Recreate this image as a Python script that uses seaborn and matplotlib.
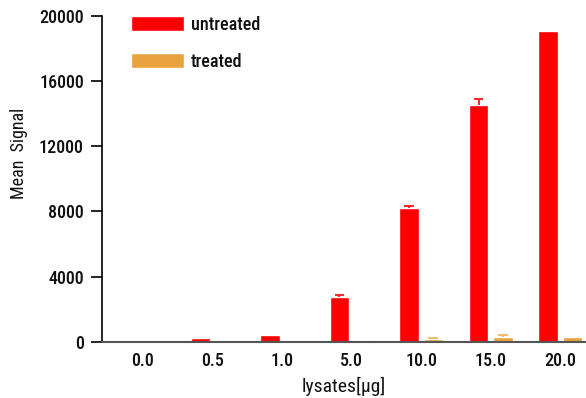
import numpy as np
import pandas as pd
import matplotlib
matplotlib.use("Agg")
import matplotlib.pyplot as plt
import seaborn as sns

# values
doses = ["0.0", "0.5", "1.0", "5.0", "10.0", "15.0", "20.0"]
untreated = [40, 250, 410, 2740, 8200, 14540, 19080]
untreated_err = [0, 0, 0, 150, 160, 360, 0]
treated = [10, 10, 10, 100, 170, 310, 300]
treated_err = [0, 0, 0, 0, 90, 100, 0]

groups = ["untreated", "treated"]
colors = {"untreated": "#FF0000", "treated": "#E9A23D"}
err_colors = {"untreated": "#FF2A2A", "treated": "#F2BC6A"}

df = pd.DataFrame({
    "dose": doses * 2,
    "signal": untreated + treated,
    "group": ["untreated"] * len(doses) + ["treated"] * len(doses),
})

sns.set_style("white")
plt.rcParams["font.family"] = ["Roboto Condensed", "DejaVu Sans"]
plt.rcParams["font.weight"] = "medium"
plt.rcParams["text.color"] = "#111111"
plt.rcParams["xtick.color"] = "#111111"
plt.rcParams["ytick.color"] = "#111111"
plt.rcParams["axes.labelcolor"] = "#111111"

fig = plt.figure(figsize=(5.86, 3.98), dpi=100)
ax = fig.add_axes([0.174, 0.141, 0.826, 0.819])

sns.barplot(data=df, x="dose", y="signal", hue="group", order=doses,
            hue_order=groups, palette=colors, width=0.7, gap=0.2,
            saturation=1, errorbar=None, ax=ax)

# upper error bars only, placed on the bar centres
errs = {"untreated": untreated_err, "treated": treated_err}
vals = {"untreated": untreated, "treated": treated}
bars = list(ax.containers)
cap = 0.07
for cont, g in zip(bars, groups):
    for p, v, e in zip(cont.patches, vals[g], errs[g]):
        if e <= 0:
            continue
        xc = p.get_x() + p.get_width() / 2
        ax.vlines(xc, v, v + e, colors=err_colors[g], linewidth=1.5)
        ax.hlines(v + e, xc - cap, xc + cap, colors=err_colors[g], linewidth=1.5)

ax.set_xlim(-0.59, 6.37)
ax.set_ylim(0, 20000)
ax.set_yticks([0, 4000, 8000, 12000, 16000, 20000])
ax.tick_params(axis="y", direction="out", length=8, width=1.2, color="black",
               labelsize=13, left=True, pad=5)
ax.tick_params(axis="x", length=0, labelsize=13, pad=7)

for s in ["top", "right"]:
    ax.spines[s].set_visible(False)
ax.spines["left"].set_color("black")
ax.spines["left"].set_linewidth(1.2)
ax.spines["bottom"].set_color("#555555")
ax.spines["bottom"].set_linewidth(1.5)

ax.set_ylabel("Mean  Signal", fontsize=13)
ax.yaxis.set_label_coords(-0.152, 0.577)
ax.set_xlabel("lysates[\u03bcg]", fontsize=14, labelpad=5)

leg = ax.legend(loc="upper left", bbox_to_anchor=(0.027, 1.05), frameon=False,
                fontsize=13, handlelength=2.9, handleheight=0.85,
                labelspacing=1.05, handletextpad=0.4)

fig.savefig("out.png", dpi=100, facecolor="white")
